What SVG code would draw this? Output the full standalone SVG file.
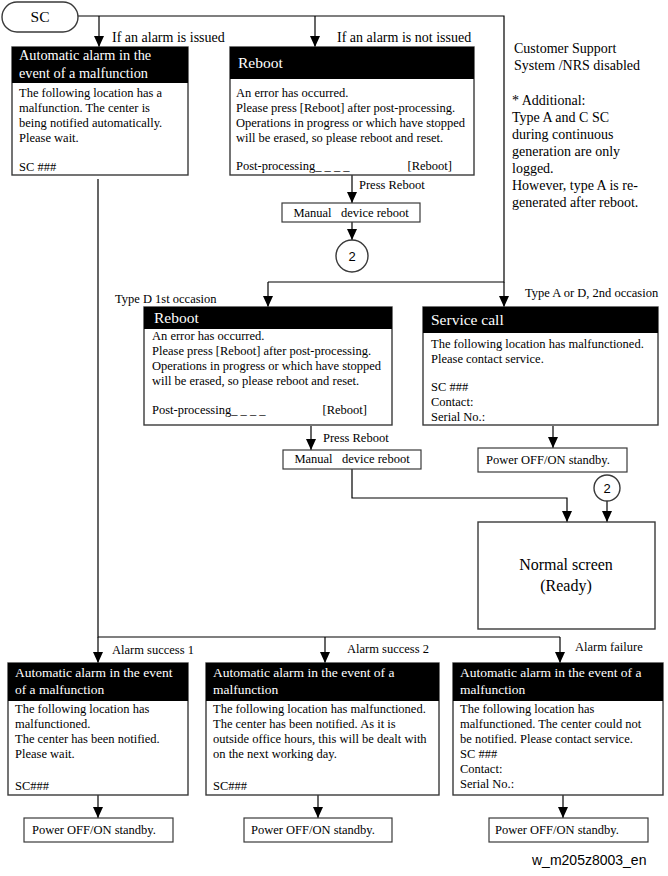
<svg xmlns="http://www.w3.org/2000/svg" width="668" height="876" viewBox="0 0 668 876">
<style>
text{font-family:"Liberation Serif","Times New Roman",serif;fill:#000}
.b{font-size:12.5px}
.l{font-size:12.5px}
.lg{font-size:14px}
.h{fill:#fff;font-size:14.3px}
.hb{fill:#fff;font-size:13.5px}
.hr{fill:#fff;font-size:15.5px}
.nm{font-size:16px}
.box{fill:#fff;stroke:#3a3a3a;stroke-width:1.4}
.hdr{fill:#000}
.sm{fill:#fff;stroke:#3a3a3a;stroke-width:1.2}
.c{fill:none;stroke:#000;stroke-width:1.2}
.ca{fill:none;stroke:#000;stroke-width:1.2;marker-end:url(#arr)}
.sans{font-family:"Liberation Sans",Arial,sans-serif;font-size:14px}
.num{font-family:"Liberation Sans",Arial,sans-serif;font-size:13px}
</style>
<defs>
<marker id="arr" markerUnits="userSpaceOnUse" viewBox="0 0 11 10" refX="11" refY="5" markerWidth="11" markerHeight="10" orient="auto">
<path d="M0,0 L11,5 L0,10 z" fill="#000"/>
</marker>
</defs>
<rect width="668" height="876" fill="#fff"/>

<g id="connectors">
<path class="c" d="M78,16 H504 V282 H268"/>
<path class="ca" d="M99,16 V47"/>
<path class="ca" d="M315,16 V47"/>
<path class="ca" d="M268,282 V307"/>
<path class="ca" d="M504,282 V307"/>
<path class="ca" d="M352,175 V203"/>
<path class="ca" d="M352,222 V240"/>
<path class="ca" d="M311,426 V450"/>
<path class="ca" d="M553,426 V448"/>
<path class="ca" d="M352,469 V498 H567 V522"/>
<path class="ca" d="M607,501 V522"/>
<path class="c" d="M98,179 V637 H560"/>
<path class="ca" d="M98,637 V663"/>
<path class="ca" d="M325,637 V663"/>
<path class="ca" d="M560,637 V663"/>
<path class="ca" d="M98,795 V818"/>
<path class="ca" d="M318,795 V818"/>
<path class="ca" d="M563,795 V818"/>
</g>

<g id="labels">
<text class="lg" x="112" y="42">If an alarm is issued</text>
<text class="lg" x="337" y="42">If an alarm is not issued</text>
<text class="l" x="359" y="189">Press Reboot</text>
<text class="l" x="115" y="303">Type D 1st occasion</text>
<text class="l" x="525" y="297">Type A or D, 2nd occasion</text>
<text class="l" x="323" y="442">Press Reboot</text>
<text class="l" x="112" y="654">Alarm success 1</text>
<text class="l" x="347" y="653">Alarm success 2</text>
<text class="l" x="575" y="651">Alarm failure</text>
</g>

<g id="sc">
<rect x="2" y="2" width="76" height="30" rx="15" ry="15" class="box"/>
<text x="40" y="22" text-anchor="middle" style="font-size:15.5px">SC</text>
</g>

<g id="note">
<text class="lg" x="514" y="53">Customer Support</text>
<text class="lg" x="514" y="70">System /NRS disabled</text>
<text class="lg" x="512" y="105">* Additional:</text>
<text class="lg" x="512" y="122">Type A and C SC</text>
<text class="lg" x="512" y="139">during continuous</text>
<text class="lg" x="512" y="156">generation are only</text>
<text class="lg" x="512" y="173">logged.</text>
<text class="lg" x="512" y="190">However, type A is re-</text>
<text class="lg" x="512" y="207">generated after reboot.</text>
</g>

<g id="alarm-top">
<rect class="box" x="12" y="47" width="176" height="128"/>
<rect class="hdr" x="12" y="47" width="176" height="36"/>
<text class="h" x="19" y="60">Automatic alarm in the</text>
<text class="h" x="19" y="78">event of a malfunction</text>
<text class="b" x="19" y="97">The following location has a</text>
<text class="b" x="19" y="112">malfunction. The center is</text>
<text class="b" x="19" y="127">being notified automatically.</text>
<text class="b" x="19" y="142">Please wait.</text>
<text class="b" x="19" y="171">SC ###</text>
</g>

<g id="reboot-top">
<rect class="box" x="230" y="47" width="244" height="128"/>
<rect class="hdr" x="230" y="47" width="244" height="32"/>
<text class="hr" x="238" y="68">Reboot</text>
<text class="b" x="236" y="97">An error has occurred.</text>
<text class="b" x="236" y="112">Please press [Reboot] after post-processing.</text>
<text class="b" x="236" y="127">Operations in progress or which have stopped</text>
<text class="b" x="236" y="142">will be erased, so please reboot and reset.</text>
<text class="b" x="236" y="170">Post-processing_ _ _ _</text>
<text class="b" x="452" y="170" text-anchor="end">[Reboot]</text>
</g>

<g id="manual-top">
<rect class="sm" x="282" y="203" width="138" height="19"/>
<text class="b" x="351" y="217" text-anchor="middle">Manual&#160;&#160; device reboot</text>
</g>

<g id="conn2-top">
<circle cx="352" cy="256" r="16" class="box"/>
<text class="num" x="352" y="261" text-anchor="middle">2</text>
</g>

<g id="reboot-d">
<rect class="box" x="144" y="307" width="248" height="118"/>
<rect class="hdr" x="144" y="307" width="248" height="22"/>
<text class="hr" x="154" y="323">Reboot</text>
<text class="b" x="152" y="340">An error has occurred.</text>
<text class="b" x="152" y="355">Please press [Reboot] after post-processing.</text>
<text class="b" x="152" y="370">Operations in progress or which have stopped</text>
<text class="b" x="152" y="385">will be erased, so please reboot and reset.</text>
<text class="b" x="152" y="414">Post-processing_ _ _ _</text>
<text class="b" x="367" y="414" text-anchor="end">[Reboot]</text>
</g>

<g id="manual-d">
<rect class="sm" x="283" y="450" width="138" height="19"/>
<text class="b" x="352" y="463" text-anchor="middle">Manual&#160;&#160; device reboot</text>
</g>

<g id="service-call">
<rect class="box" x="423" y="307" width="235" height="118"/>
<rect class="hdr" x="423" y="307" width="235" height="26"/>
<text class="hr" x="431" y="325">Service call</text>
<text class="b" x="431" y="348">The following location has malfunctioned.</text>
<text class="b" x="431" y="363">Please contact service.</text>
<text class="b" x="431" y="391">SC ###</text>
<text class="b" x="431" y="406">Contact:</text>
<text class="b" x="431" y="421">Serial No.:</text>
</g>

<g id="power-sc">
<rect class="sm" x="478" y="448" width="149" height="24"/>
<text class="b" x="486" y="464">Power OFF/ON standby.</text>
</g>

<g id="conn2-right">
<circle cx="607" cy="488" r="13" class="box"/>
<text class="num" x="607" y="493" text-anchor="middle">2</text>
</g>

<g id="normal">
<rect class="box" x="478" y="522" width="177" height="107"/>
<text class="nm" x="566" y="570" text-anchor="middle">Normal screen</text>
<text class="nm" x="566" y="591" text-anchor="middle">(Ready)</text>
</g>

<g id="alarm-success1">
<rect class="box" x="8" y="663" width="180" height="132"/>
<rect class="hdr" x="8" y="663" width="180" height="38"/>
<text class="hb" x="15" y="677">Automatic alarm in the event</text>
<text class="hb" x="15" y="694">of a malfunction</text>
<text class="b" x="15" y="713">The following location has</text>
<text class="b" x="15" y="728">malfunctioned.</text>
<text class="b" x="15" y="743">The center has been notified.</text>
<text class="b" x="15" y="758">Please wait.</text>
<text class="b" x="15" y="790">SC###</text>
</g>

<g id="alarm-success2">
<rect class="box" x="206" y="663" width="233" height="132"/>
<rect class="hdr" x="206" y="663" width="233" height="38"/>
<text class="hb" x="213" y="677">Automatic alarm in the event of a</text>
<text class="hb" x="213" y="694">malfunction</text>
<text class="b" x="213" y="713">The following location has malfunctioned.</text>
<text class="b" x="213" y="728">The center has been notified. As it is</text>
<text class="b" x="213" y="743">outside office hours, this will be dealt with</text>
<text class="b" x="213" y="758">on the next working day.</text>
<text class="b" x="213" y="790">SC###</text>
</g>

<g id="alarm-failure">
<rect class="box" x="453" y="663" width="210" height="132"/>
<rect class="hdr" x="453" y="663" width="210" height="38"/>
<text class="hb" x="460" y="677">Automatic alarm in the event of a</text>
<text class="hb" x="460" y="694">malfunction</text>
<text class="b" x="460" y="713">The following location has</text>
<text class="b" x="460" y="728">malfunctioned. The center could not</text>
<text class="b" x="460" y="743">be notified. Please contact service.</text>
<text class="b" x="460" y="758">SC ###</text>
<text class="b" x="460" y="773">Contact:</text>
<text class="b" x="460" y="788">Serial No.:</text>
</g>

<g id="power-1">
<rect class="sm" x="24" y="818" width="149" height="24"/>
<text class="b" x="32" y="834">Power OFF/ON standby.</text>
</g>
<g id="power-2">
<rect class="sm" x="244" y="818" width="148" height="24"/>
<text class="b" x="251" y="834">Power OFF/ON standby.</text>
</g>
<g id="power-3">
<rect class="sm" x="489" y="818" width="159" height="24"/>
<text class="b" x="495" y="834">Power OFF/ON standby.</text>
</g>

<text class="sans" x="532" y="865">w_m205z8003_en</text>
</svg>
